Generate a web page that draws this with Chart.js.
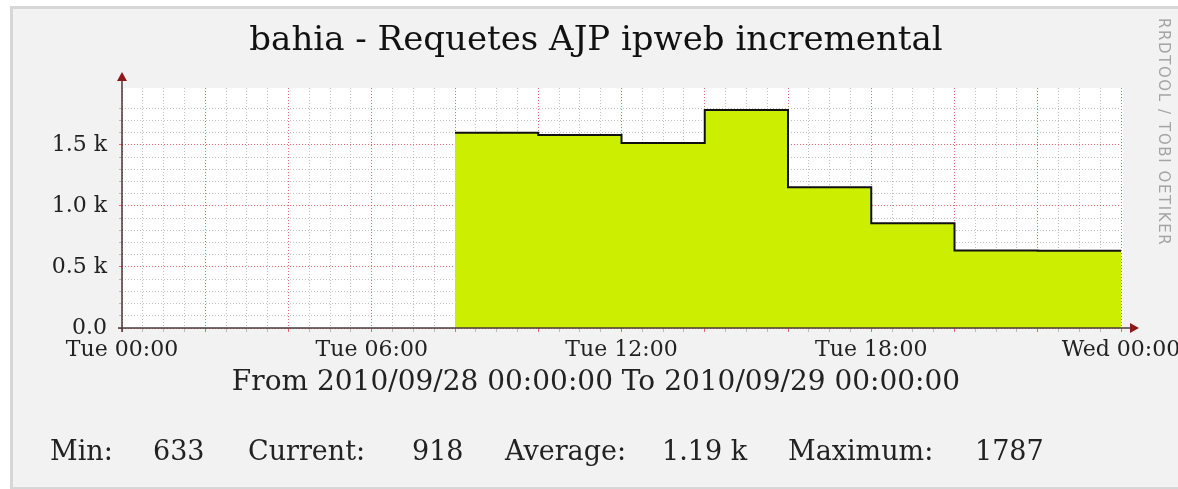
<!DOCTYPE html>
<html>
<head>
<meta charset="utf-8">
<script src="https://cdn.jsdelivr.net/npm/chart.js@4.4.1/dist/chart.umd.min.js"></script>
<style>
  body { margin: 0; background: #fff; width: 1178px; height: 489px; overflow: hidden; position: relative; font-family: "DejaVu Serif", serif; }
  #cadre { position: absolute; left: 10px; top: 6px; width: 1200px; height: 478px; background: #f2f2f2; border-left: 3px solid #d6d6d6; border-top: 3px solid #d6d6d6; border-bottom: 2px solid #d6d6d6; }
  #grafico { position: absolute; left: 0; top: 0; }
  .txt { position: absolute; color: #222; white-space: nowrap; }
  #titulo { left: 0; width: 1192px; top: 18px; text-align: center; font-size: 34px; color: #111; }
  #periodo { left: 0; width: 1192px; top: 364px; text-align: center; font-size: 28px; }
  .leg { top: 435px; font-size: 27px; }
  #marca { left: 1155px; top: 18px; font-family: "DejaVu Sans", sans-serif; font-size: 15px; letter-spacing: 1.6px; color: #a4a4a4; transform-origin: 0 0; transform: translate(18px, 0) rotate(90deg); }
</style>
</head>
<body>
<div id="cadre"></div>
<canvas id="grafico" width="1178" height="489"></canvas>
<div class="txt" id="titulo">bahia - Requetes AJP ipweb incremental</div>
<div class="txt" id="periodo">From 2010/09/28 00:00:00 To 2010/09/29 00:00:00</div>
<div class="txt leg" style="left:50px">Min:</div>
<div class="txt leg" style="left:153px">633</div>
<div class="txt leg" style="left:248px">Current:</div>
<div class="txt leg" style="left:412px">918</div>
<div class="txt leg" style="left:505px">Average:</div>
<div class="txt leg" style="left:662px">1.19 k</div>
<div class="txt leg" style="left:788px">Maximum:</div>
<div class="txt leg" style="left:975px">1787</div>
<div class="txt" id="marca">RRDTOOL / TOBI OETIKER</div>
<script>
    // Dados (horas do dia, início de cada intervalo de 2h)
    const inicioIntervalo = [8, 10, 12, 14, 16, 18, 20, 22];
    const fimDados = 24;
    const requetes = [1600, 1582, 1516, 1787, 1153, 858, 636, 633];

    // Eixos
    const xLabelHoras = [0, 6, 12, 18, 24];
    const xLabels = ['Tue 00:00', 'Tue 06:00', 'Tue 12:00', 'Tue 18:00', 'Wed 00:00'];
    const yLabelValores = [0, 500, 1000, 1500];
    const yLabels = ['0.0', '0.5 k', '1.0 k', '1.5 k'];

    const corVermelha = 'rgba(235, 70, 70, 0.8)';
    const corCinza = 'rgba(150, 150, 150, 0.6)';

    // Pontos do degrau (o último valor vai até o fim do dia)
    const pontos = inicioIntervalo.map((h, i) => ({ x: h, y: requetes[i] }));
    pontos.push({ x: fimDados, y: requetes[requetes.length - 1] });

    // Fundo branco da área do gráfico
    const fundoPlot = {
        id: 'fundoPlot',
        beforeDraw(chart) {
            const { ctx, chartArea } = chart;
            ctx.save();
            ctx.fillStyle = '#ffffff';
            ctx.fillRect(chartArea.left, chartArea.top, chartArea.right - chartArea.left + 2, chartArea.bottom - chartArea.top);
            ctx.restore();
        }
    };

    // Eixos com setas, estilo rrdtool
    const eixosSetas = {
        id: 'eixosSetas',
        afterDraw(chart) {
            const { ctx, chartArea } = chart;
            const x0 = chartArea.left, y0 = chartArea.bottom;
            ctx.save();
            ctx.strokeStyle = '#4a3a3a';
            ctx.lineWidth = 1.5;
            ctx.beginPath();
            ctx.moveTo(x0 - 4, y0);
            ctx.lineTo(chartArea.right + 10, y0);
            ctx.moveTo(x0, y0 + 4);
            ctx.lineTo(x0, chartArea.top - 8);
            ctx.stroke();
            ctx.fillStyle = '#8b1a1a';
            ctx.beginPath();
            ctx.moveTo(chartArea.right + 18, y0);
            ctx.lineTo(chartArea.right + 9, y0 - 5);
            ctx.lineTo(chartArea.right + 9, y0 + 5);
            ctx.closePath();
            ctx.fill();
            ctx.beginPath();
            ctx.moveTo(x0, chartArea.top - 16);
            ctx.lineTo(x0 - 5, chartArea.top - 7);
            ctx.lineTo(x0 + 5, chartArea.top - 7);
            ctx.closePath();
            ctx.fill();
            ctx.restore();
        }
    };

    const ctx = document.getElementById('grafico').getContext('2d');
    new Chart(ctx, {
        type: 'line',
        data: {
            datasets: [{
                label: 'Requetes AJP',
                data: pontos,
                stepped: true,
                fill: 'origin',
                backgroundColor: '#ccee00',
                borderColor: '#111111',
                borderWidth: 2,
                pointRadius: 0
            }]
        },
        options: {
            responsive: false,
            animation: false,
            layout: { padding: { left: 0, right: 57, top: 88, bottom: 126 } },
            plugins: { legend: { display: false }, tooltip: { enabled: false } },
            scales: {
                x: {
                    type: 'linear',
                    min: 0,
                    max: 24,
                    z: 1,
                    afterFit(s) { s.height = 35; s.paddingLeft = 0; s.paddingRight = 0; },
                    grid: {
                        color: c => (c.tick && c.tick.value % 2 === 0) ? corVermelha : corCinza,
                        tickColor: c => (c.tick && c.tick.value % 2 === 0) ? corVermelha : corCinza,
                        lineWidth: 1,
                        tickLength: 4
                    },
                    border: { display: false, dash: [1, 2] },
                    ticks: {
                        stepSize: 0.5,
                        autoSkip: false,
                        maxRotation: 0,
                        padding: 5,
                        color: '#222',
                        font: { family: 'DejaVu Serif', size: 22 },
                        callback: v => {
                            const i = xLabelHoras.indexOf(v);
                            return i >= 0 ? xLabels[i] : '';
                        }
                    }
                },
                y: {
                    min: 0,
                    max: 1967,
                    z: 1,
                    afterFit(s) { s.width = 122; },
                    afterBuildTicks(s) { s.ticks = s.ticks.filter(t => t.value % 100 === 0); },
                    grid: {
                        color: c => (c.tick && c.tick.value % 500 === 0) ? corVermelha : corCinza,
                        tickColor: c => (c.tick && c.tick.value % 500 === 0) ? corVermelha : corCinza,
                        lineWidth: 1,
                        tickLength: 3
                    },
                    border: { display: false, dash: [1, 2] },
                    ticks: {
                        stepSize: 100,
                        autoSkip: false,
                        padding: 12,
                        color: '#222',
                        font: { family: 'DejaVu Serif', size: 22 },
                        callback: v => {
                            const i = yLabelValores.indexOf(v);
                            return i >= 0 ? yLabels[i] : '';
                        }
                    }
                }
            }
        },
        plugins: [fundoPlot, eixosSetas]
    });
</script>
</body>
</html>
